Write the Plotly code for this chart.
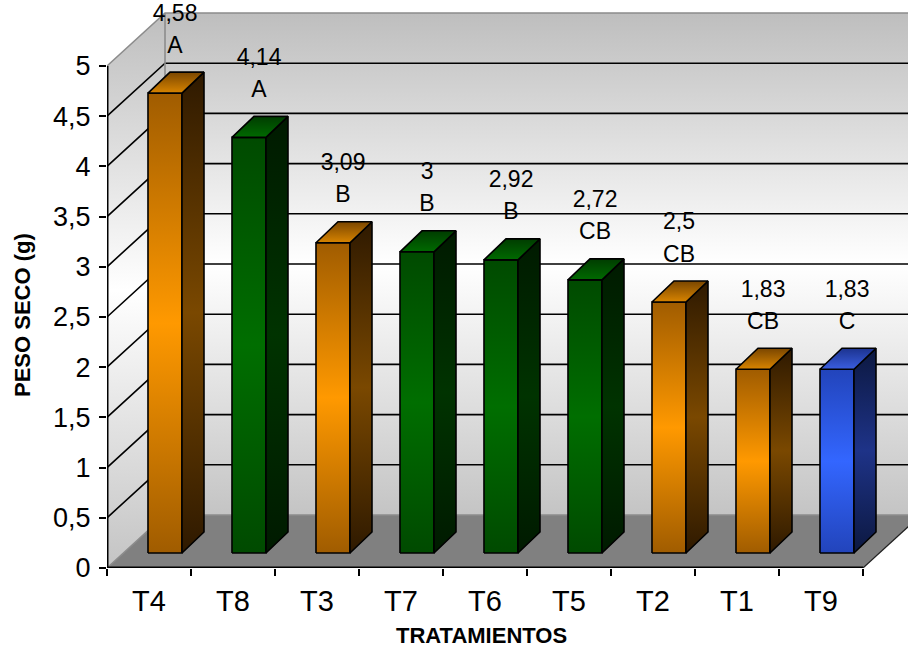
import plotly.graph_objects as go

# ---------------- data ----------------
categories = ["T4", "T8", "T3", "T7", "T6", "T5", "T2", "T1", "T9"]
values = [4.58, 4.14, 3.09, 3.00, 2.92, 2.72, 2.50, 1.83, 1.83]
letters = ["A", "A", "B", "B", "B", "CB", "CB", "CB", "C"]
groups = ["orange", "green", "orange", "green", "green", "green", "orange", "orange", "blue"]
y_ticks = [0, 0.5, 1, 1.5, 2, 2.5, 3, 3.5, 4, 4.5, 5]
x_title = "TRATAMIENTOS"
y_title = "PESO SECO (g)"

# ---------------- styles ----------------
FONT = "Arial, Liberation Sans, sans-serif"
PALETTE = {
    "orange": dict(front=[[0, "#a05c00"], [0.5, "#ff9900"], [1, "#a05c00"]],
                   side=[[0, "#2e1900"], [0.5, "#7a4800"], [1, "#2e1900"]],
                   top=[[0, "#d88400"], [1, "#7a4600"]]),
    "green": dict(front=[[0, "#004a00"], [0.5, "#006e00"], [1, "#004a00"]],
                  side=[[0, "#001a00"], [0.5, "#003300"], [1, "#001a00"]],
                  top=[[0, "#006a00"], [1, "#003c00"]]),
    "blue": dict(front=[[0, "#2244bb"], [0.5, "#3366ff"], [1, "#2244bb"]],
                 side=[[0, "#0c1840"], [0.5, "#1e3388"], [1, "#0c1840"]],
                 top=[[0, "#3a5ee0"], [1, "#1c338f"]]),
}

W, H = 908, 649
L, R, T, B = 107, 0, 6, 81
PW, PH = W - L - R, H - T - B
PX_CAT, PX_UNIT = 84.0, 100.4
xr = [-0.5, -0.5 + PW / PX_CAT]
yr = [0, PH / PX_UNIT]

DX, DY = 58 / PX_CAT, 53 / PX_UNIT          # floor/wall depth
BAR_X0, BAR_W = -0.012, 34 / PX_CAT        # bar front face placement
BAR_BASE = 15 / PX_UNIT
BDX, BDY = 22 / PX_CAT, 21 / PX_UNIT        # bar depth

n = len(categories)
x_left, x_right = -0.5, n - 0.5
ymax = y_ticks[-1]
far = xr[1] + 1

fig = go.Figure()


def poly(xs, ys, fillcolor=None, grad=None, line_color="rgba(0,0,0,0)", lw=0):
    kw = dict(x=xs + [xs[0]], y=ys + [ys[0]], mode="lines", fill="toself",
              line=dict(color=line_color, width=lw), hoverinfo="skip", showlegend=False)
    if grad is not None:
        kw["fillgradient"] = dict(type="vertical", colorscale=grad)
    else:
        kw["fillcolor"] = fillcolor
    fig.add_trace(go.Scatter(**kw))


def lines(xs, ys, color, width):
    fig.add_trace(go.Scatter(x=xs, y=ys, mode="lines", line=dict(color=color, width=width),
                             hoverinfo="skip", showlegend=False))


wall_grad = [[0, "#c4c4c4"], [0.5, "#ffffff"], [1, "#bebebe"]]
# back wall
poly([x_left + DX, far, far, x_left + DX], [DY, DY, ymax + DY, ymax + DY], grad=wall_grad)
# left wall
poly([x_left, x_left + DX, x_left + DX, x_left], [0, DY, ymax + DY, ymax], grad=wall_grad)
# floor
poly([x_left, x_right, x_right + DX, x_left + DX], [0, 0, DY, DY], fillcolor="#808080")

# gridlines on walls
gx, gy = [], []
for v in y_ticks[1:-1]:
    gx += [x_left, x_left + DX, far, None]
    gy += [v, v + DY, v + DY, None]
lines(gx, gy, "black", 1.6)

# wall edges (gray)
lines([x_left, x_left + DX, far, None, x_left + DX, x_left + DX, None, x_left, x_left + DX, far],
      [ymax, ymax + DY, ymax + DY, None, DY, ymax + DY, None, 0, DY, DY], "#8c8c8c", 1.6)
# floor right edge
lines([x_right, x_right + DX], [0, DY], "#202020", 1.2)
# front axis lines
lines([x_left, x_left], [0, ymax], "black", 3)
lines([x_left, x_right], [0, 0], "black", 3)

# bars
for i, (v, g) in enumerate(zip(values, groups)):
    pal = PALETTE[g]
    x0 = i + BAR_X0
    x1 = x0 + BAR_W
    b = BAR_BASE
    t = b + v
    poly([x0, x1, x1, x0], [b, b, t, t], grad=pal["front"], line_color="black", lw=1.6)
    poly([x1, x1 + BDX, x1 + BDX, x1], [b, b + BDY, t + BDY, t], grad=pal["side"],
         line_color="black", lw=1.6)
    poly([x0, x1, x1 + BDX, x0 + BDX], [t, t, t + BDY, t + BDY], grad=pal["top"],
         line_color="black", lw=1.6)

# labels
lab_x = [i + 0.31 for i in range(n)]
fig.add_trace(go.Scatter(
    x=lab_x, y=[BAR_BASE + v + 0.78 for v in values], mode="text",
    text=[f"{v:g}".replace(".", ",") for v in values], textposition="middle center",
    textfont=dict(family=FONT, size=23, color="black"), cliponaxis=False,
    hoverinfo="skip", showlegend=False))
fig.add_trace(go.Scatter(
    x=lab_x, y=[BAR_BASE + v + 0.46 for v in values], mode="text",
    text=letters, textposition="middle center",
    textfont=dict(family=FONT, size=23, color="black"), cliponaxis=False,
    hoverinfo="skip", showlegend=False))

fig.update_layout(
    width=W, height=H, margin=dict(l=L, r=R, t=T, b=B),
    paper_bgcolor="white", plot_bgcolor="white", separators=", ",
    font=dict(family=FONT, color="black"),
    xaxis=dict(range=xr, tickmode="array", tickvals=list(range(n)), ticktext=categories,
               ticks="", showgrid=False, zeroline=False, showline=False,
               tickfont=dict(size=29, family=FONT, color="black"), ticklabelstandoff=13,
               minor=dict(tickmode="array", tickvals=[k - 0.5 for k in range(n + 1)],
                          ticks="outside", ticklen=7, tickwidth=1.5, tickcolor="black",
                          showgrid=False)),
    yaxis=dict(range=yr, tickmode="array", tickvals=y_ticks, ticks="outside", ticklen=7,
               tickwidth=1.5, tickcolor="black", showgrid=False, zeroline=False,
               showline=False, ticklabelstandoff=3,
               tickfont=dict(size=27, family=FONT, color="black")),
    annotations=[
        dict(text=f"<b>{x_title}</b>", xref="paper", yref="paper",
             x=(481.5 - L) / PW, y=-(635 - (H - B)) / PH, xanchor="center", yanchor="middle",
             showarrow=False, font=dict(size=22, family=FONT, color="black")),
        dict(text=f"<b>{y_title}</b>", xref="paper", yref="paper", textangle=-90,
             x=(22 - L) / PW, y=((H - B) - 315) / PH, xanchor="center", yanchor="middle",
             showarrow=False, font=dict(size=22, family=FONT, color="black")),
    ],
)

fig.write_html("out.html")
